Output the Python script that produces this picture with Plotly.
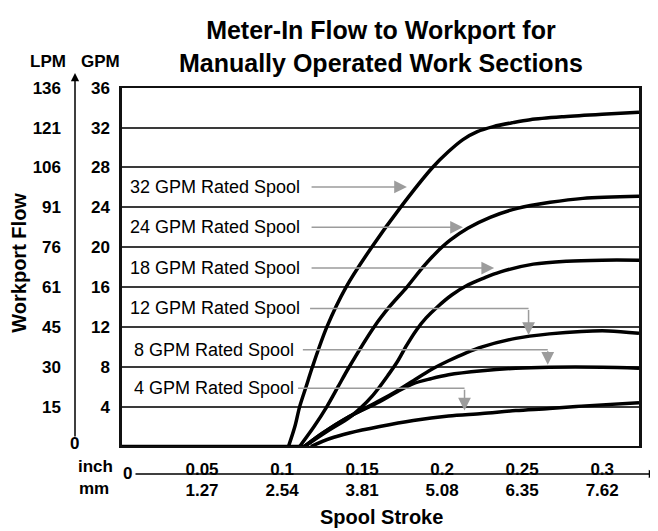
import plotly.graph_objects as go

# ---------------- data ----------------
GPM_TICKS = [4, 8, 12, 16, 20, 24, 28, 32, 36]
GPM_LABELS = ["4", "8", "12", "16", "20", "24", "28", "32", "36"]
LPM_LABELS = ["15", "30", "45", "61", "76", "91", "106", "121", "136"]
INCH_TICKS = [0.05, 0.1, 0.15, 0.2, 0.25, 0.3]
INCH_LABELS = ["0.05", "0.1", "0.15", "0.2", "0.25", "0.3"]
MM_LABELS = ["1.27", "2.54", "3.81", "5.08", "6.35", "7.62"]

BASE_X = [0.0, 0.114]
BASE_Y = [0.0, 0.0]

S32_X = [0.104, 0.108, 0.111, 0.115, 0.119, 0.128, 0.14, 0.156, 0.174, 0.194, 0.204, 0.213,
         0.222, 0.232, 0.244, 0.255, 0.276, 0.3, 0.323]
S32_Y = [0, 2, 4, 6, 8, 12, 16, 20, 24, 28, 29.6, 30.8, 31.6, 32.1, 32.5, 32.8, 33.1, 33.35, 33.55]

S24_X = [0.111, 0.12, 0.128, 0.135, 0.142, 0.1575, 0.167, 0.178, 0.188, 0.196, 0.205, 0.216,
         0.23, 0.247, 0.2675, 0.288, 0.323]
S24_Y = [0, 2, 4, 6, 8, 12, 14, 16, 18, 19.4, 20.7, 21.9, 23.0, 23.9, 24.5, 24.9, 25.1]

S18_X = [0.114, 0.128, 0.142, 0.15, 0.156, 0.161, 0.166, 0.172, 0.178, 0.184, 0.19, 0.197,
         0.206, 0.216, 0.226, 0.236, 0.257, 0.278, 0.3, 0.323]
S18_Y = [0, 1.5, 2.9, 4.0, 5.0, 6.0, 7.1, 8.5, 10.2, 11.7, 12.9, 14.0, 15.2, 16.2, 16.9, 17.5,
         18.3, 18.6, 18.7, 18.7]

S12_X = [0.114, 0.125, 0.142, 0.161, 0.172, 0.182, 0.193, 0.204, 0.215, 0.225, 0.246, 0.267,
         0.287, 0.304, 0.323]
S12_Y = [0, 1.3, 3.0, 4.6, 5.6, 6.6, 7.7, 8.6, 9.4, 10.0, 10.85, 11.3, 11.55, 11.6, 11.35]

S8_X = [0.114, 0.125, 0.142, 0.161, 0.172, 0.182, 0.193, 0.204, 0.225, 0.246, 0.267, 0.3, 0.323]
S8_Y = [0, 1.3, 3.0, 4.5, 5.5, 6.3, 6.8, 7.2, 7.6, 7.85, 7.95, 7.95, 7.85]

S4_X = [0.118, 0.13, 0.142, 0.161, 0.182, 0.204, 0.225, 0.246, 0.267, 0.287, 0.323]
S4_Y = [0, 0.8, 1.35, 2.0, 2.6, 3.05, 3.3, 3.6, 3.8, 4.05, 4.4]

SERIES = [(S32_X, S32_Y), (S24_X, S24_Y), (S18_X, S18_Y),
          (S12_X, S12_Y), (S8_X, S8_Y), (S4_X, S4_Y)]

LABEL_TEXT = ["32 GPM Rated Spool", "24 GPM Rated Spool", "18 GPM Rated Spool",
              "12 GPM Rated Spool", "8 GPM Rated Spool", "4 GPM Rated Spool"]
LABEL_X = [0.00375, 0.00375, 0.00375, 0.00375, 0.00625, 0.00625]
LABEL_Y = [26.05, 22.0, 17.9, 13.85, 9.7, 5.85]
ARROW_START_X = [0.1175, 0.1175, 0.1175, 0.1175, 0.113, 0.11]
ARROW_END_X = [0.178, 0.213, 0.2325, 0.254, 0.266, 0.214]
ARROW_TIP_Y = [None, None, None, 11.2, 8.2, 3.6]

# the page body has an 8px margin; the figure is sized and placed to compensate
OFF = 8
W, H = 650, 523
FONT = "Liberation Sans, Arial, Helvetica, sans-serif"


def px(x):
    return (x - OFF) / W


def py(y):
    return 1 - (y - OFF) / H


fig = go.Figure()

fig.add_trace(go.Scatter(x=BASE_X, y=BASE_Y, mode="lines",
                         line=dict(color="black", width=3.5), hoverinfo="skip"))
for sx, sy in SERIES:
    fig.add_trace(go.Scatter(x=sx, y=sy, mode="lines",
                             line=dict(color="black", width=3.5, shape="spline", smoothing=0.9),
                             hoverinfo="skip"))

# invisible trace so the secondary (LPM / mm) axes are drawn
fig.add_trace(go.Scatter(x=[0.2], y=[10], xaxis="x2", yaxis="y2", mode="markers",
                         marker=dict(opacity=0), hoverinfo="skip"))

ARROW_GRAY = "#9c9c9c"
annotations = []
shapes = []
for i, label in enumerate(LABEL_TEXT):
    annotations.append(dict(x=LABEL_X[i], y=LABEL_Y[i], xref="x", yref="y", text=label,
                            showarrow=False, xanchor="left", yanchor="middle",
                            font=dict(family=FONT, size=18, color="black")))
    if ARROW_TIP_Y[i] is None:
        annotations.append(dict(x=ARROW_END_X[i], y=LABEL_Y[i], xref="x", yref="y",
                                ax=ARROW_START_X[i], ay=LABEL_Y[i], axref="x", ayref="y",
                                text="", showarrow=True, arrowhead=2, arrowsize=1.7,
                                arrowwidth=1.5, arrowcolor=ARROW_GRAY))
    else:
        shapes.append(dict(type="line", xref="x", yref="y", x0=ARROW_START_X[i], y0=LABEL_Y[i],
                           x1=ARROW_END_X[i], y1=LABEL_Y[i],
                           line=dict(color=ARROW_GRAY, width=1.5)))
        annotations.append(dict(x=ARROW_END_X[i], y=ARROW_TIP_Y[i], xref="x", yref="y",
                                ax=ARROW_END_X[i], ay=LABEL_Y[i], axref="x", ayref="y",
                                text="", showarrow=True, arrowhead=2, arrowsize=1.7,
                                arrowwidth=1.5, arrowcolor=ARROW_GRAY))

# axis arrows
annotations.append(dict(x=px(75), y=py(65), xref="paper", yref="paper", ax=0, ay=365,
                        text="", showarrow=True, arrowhead=2, arrowsize=1.1, arrowwidth=1.5,
                        arrowcolor="black"))
annotations.append(dict(x=px(657), y=py(473), xref="paper", yref="paper", ax=-523, ay=0,
                        text="", showarrow=True, arrowhead=2, arrowsize=1.1, arrowwidth=1.5,
                        arrowcolor="black"))


def txt(x, y, s, size=17, bold=False, angle=0, xanchor="center"):
    annotations.append(dict(x=px(x), y=py(y), xref="paper", yref="paper", text=s,
                            showarrow=False, xanchor=xanchor, yanchor="middle", textangle=angle,
                            font=dict(family=FONT, size=size, color="black",
                                      weight="bold" if bold else "normal")))


txt(381, 38, "Meter-In Flow to Workport for<br>Manually Operated Work Sections", size=25, bold=True)
txt(48, 53, "LPM", size=17, bold=True)
txt(100, 53, "GPM", size=17, bold=True)
txt(74.5, 441.5, "0", size=17, bold=True)
txt(95, 465, "inch", size=17, bold=True)
txt(94, 488, "mm", size=17, bold=True)
txt(127.5, 473, "0", size=17, bold=True)
txt(19, 258, "Workport Flow", size=20, bold=True, angle=-90)
txt(381, 517, "Spool Stroke", size=20, bold=True)

tickfont = dict(family=FONT, size=17, color="black", weight="bold")

fig.update_layout(
    width=W, height=H,
    margin=dict(l=0, r=0, t=0, b=0),
    paper_bgcolor="white", plot_bgcolor="white",
    showlegend=False,
    annotations=annotations,
    shapes=shapes,
    xaxis=dict(domain=[px(122), px(639)], range=[0, 0.323], tickvals=INCH_TICKS,
               ticktext=INCH_LABELS, showgrid=False, zeroline=False, showline=True,
               linecolor="#111111", linewidth=2, mirror=True, ticks="",
               ticklabelstandoff=6, tickfont=tickfont, fixedrange=True),
    yaxis=dict(domain=[py(445), py(80)], range=[0, 36], tickvals=GPM_TICKS,
               ticktext=GPM_LABELS, showgrid=True, gridcolor="#3a3a3a", gridwidth=1.5,
               zeroline=False, showline=True, linecolor="#111111", linewidth=2.5, mirror=True,
               ticks="", ticklabelstandoff=6, tickfont=tickfont, fixedrange=True),
    xaxis2=dict(overlaying="x", anchor="free", position=py(473), side="bottom",
                range=[0, 0.323], tickvals=INCH_TICKS, ticktext=MM_LABELS, showgrid=False,
                zeroline=False, showline=False, ticks="", ticklabelstandoff=4,
                tickfont=tickfont, fixedrange=True),
    yaxis2=dict(overlaying="y", anchor="free", position=px(63), side="left",
                range=[0, 36], tickvals=GPM_TICKS, ticktext=LPM_LABELS, showgrid=False,
                zeroline=False, showline=False, ticks="", ticklabelstandoff=2,
                tickfont=tickfont, fixedrange=True),
)

fig.write_html("out.html")
